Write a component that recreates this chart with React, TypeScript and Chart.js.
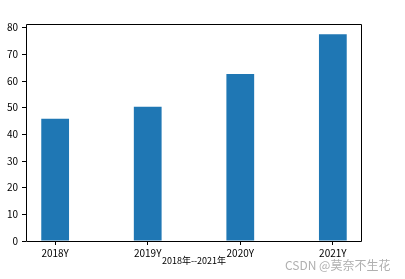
import React, { useEffect, useRef } from "react";
import { Chart, registerables } from "chart.js";

Chart.register(...registerables);

const categories = ["2018Y", "2019Y", "2020Y", "2021Y"];
const values = [45.8, 50.3, 62.6, 77.5];
const yTicks = [0, 10, 20, 30, 40, 50, 60, 70, 80];
const xTitle = "2018年--2021年";
const watermark = "CSDN @莫奈不生花";

const tickFont = { family: "'Noto Sans CJK SC', sans-serif", size: 10 };

const framePlugin = {
  id: "frame",
  afterDatasetsDraw(chart: any) {
    const { ctx, chartArea } = chart;
    const { left, right, top, bottom } = chartArea;
    ctx.save();
    ctx.strokeStyle = "#000";
    ctx.lineWidth = 1;
    ctx.beginPath();
    ctx.moveTo(left + 0.5, top + 0.5);
    ctx.lineTo(right - 0.5, top + 0.5);
    ctx.lineTo(right - 0.5, bottom + 0.5);
    ctx.lineTo(left + 0.5, bottom + 0.5);
    ctx.closePath();
    ctx.stroke();
    ctx.restore();
  },
  afterDraw(chart: any) {
    const { ctx } = chart;
    ctx.save();
    ctx.fillStyle = "#b0b0b0";
    ctx.font = "12px 'Noto Sans CJK SC', sans-serif";
    ctx.textAlign = "left";
    ctx.textBaseline = "middle";
    ctx.fillText(watermark, 285, 265.5);
    ctx.restore();
  },
};

export default function App() {
  const ref = useRef<HTMLCanvasElement | null>(null);
  useEffect(() => {
    if (!ref.current) return;
    const chart = new Chart(ref.current, {
      type: "bar",
      data: {
        datasets: [
          {
            data: values.map((v, i) => ({ x: i, y: v })),
            backgroundColor: "#1f77b4",
            borderWidth: 0,
            barPercentage: 0.3,
            categoryPercentage: 1,
          },
        ],
      },
      options: {
        responsive: false,
        animation: false,
        layout: { padding: { top: 24, right: 43, left: 0, bottom: 0 } },
        plugins: { legend: { display: false }, tooltip: { enabled: false } },
        scales: {
          x: {
            type: "linear",
            offset: false,
            min: -0.315,
            max: 3.315,
            afterBuildTicks: (s: any) => {
              s.ticks = categories.map((_, i) => ({ value: i }));
            },
            afterFit: (s: any) => {
              s.height = 38;
            },
            border: { display: false },
            grid: { offset: false, drawOnChartArea: false, drawTicks: true, tickLength: 4, color: "#000", lineWidth: 1 },
            ticks: {
              color: "#000",
              font: tickFont,
              padding: 2,
              maxRotation: 0,
              autoSkip: false,
              callback: (v: any) => categories[v as number] ?? "",
            },
            title: {
              display: true,
              text: xTitle,
              color: "#000",
              font: { family: "'Noto Sans CJK SC', sans-serif", size: 9 },
              padding: { top: 0, bottom: 13 },
            },
          },
          y: {
            type: "linear",
            min: 0,
            max: 81.375,
            afterBuildTicks: (s: any) => {
              s.ticks = yTicks.map((v) => ({ value: v }));
            },
            afterFit: (s: any) => {
              s.width = 26;
            },
            border: { display: false },
            grid: { drawOnChartArea: false, drawTicks: true, tickLength: 4, color: "#000", lineWidth: 1 },
            ticks: { color: "#000", font: tickFont, padding: 4 },
          },
        },
      },
      plugins: [framePlugin],
    });
    return () => chart.destroy();
  }, []);
  return (
    <div style={{ position: "absolute", left: 0, top: 0, width: 405, height: 279, background: "#fff" }}>
      <canvas ref={ref} width={405} height={279} style={{ width: 405, height: 279 }} />
    </div>
  );
}
